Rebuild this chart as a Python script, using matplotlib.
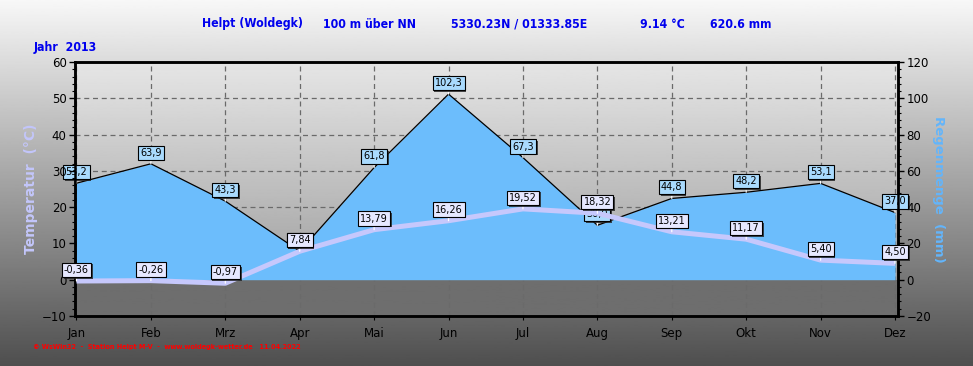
import numpy as np
import matplotlib
matplotlib.use("Agg")
import matplotlib.pyplot as plt
import matplotlib.patheffects as pe
from matplotlib.ticker import MultipleLocator

months = ["Jan", "Feb", "Mrz", "Apr", "Mai", "Jun", "Jul", "Aug", "Sep", "Okt", "Nov", "Dez"]
temp = [-0.36, -0.26, -0.97, 7.84, 13.79, 16.26, 19.52, 18.32, 13.21, 11.17, 5.40, 4.50]  # °C
rain = [53.2, 63.9, 43.3, 15.7, 61.8, 102.3, 67.3, 30.0, 44.8, 48.2, 53.1, 37.0]  # mm
temp_labels = ["-0,36", "-0,26", "-0,97", "7,84", "13,79", "16,26", "19,52", "18,32", "13,21", "11,17", "5,40", "4,50"]
rain_labels = ["53,2", "63,9", "43,3", "15,7", "61,8", "102,3", "67,3", "30,0", "44,8", "48,2", "53,1", "37,0"]

x = np.arange(len(months))

fig = plt.figure(figsize=(9.73, 3.66), dpi=100)

# figure background gradient (light top, dark bottom)
bg = fig.add_axes([0, 0, 1, 1], zorder=-10)
grad = np.linspace(0.97, 0.31, 256).reshape(-1, 1)
bg.imshow(grad, aspect="auto", cmap="gray", vmin=0, vmax=1, extent=[0, 1, 0, 1])
bg.set_axis_off()

# rain axes underneath, temperature axes on top
ax2 = fig.add_axes([75 / 973, 50 / 366, 823 / 973, 254 / 366])
ax = fig.add_axes([75 / 973, 50 / 366, 823 / 973, 254 / 366], sharex=ax2)
ax.patch.set_visible(False)
ax2.yaxis.tick_right()

xlim = (-0.02, 11.04)
ax2.set_xlim(*xlim)
ax2.set_ylim(-20, 120)
ax.set_ylim(-10, 60)

# plot area background: gradient above zero, flat dark below
zero_frac = 20 / 140
top_grad = np.linspace(0.63, 0.90, 200)
img = np.concatenate([np.full(int(200 * zero_frac / (1 - zero_frac)), 0.43), top_grad])[::-1].reshape(-1, 1)
ax2.imshow(img, aspect="auto", cmap="gray", vmin=0, vmax=1,
           extent=[xlim[0], xlim[1], -20, 120], zorder=0)

# grid (behind the rain area)
for xv in x:
    ax2.axvline(xv, color="#6a6a6a", lw=0.9, ls=(0, (4, 3)), zorder=1)
for yv in [20, 40, 60, 80, 100]:
    ax2.axhline(yv, color="#6a6a6a", lw=0.9, ls=(0, (4, 3)), zorder=1)

# rain area
ax2.fill_between(x, 0, rain, color="#6cbdfc", lw=0, zorder=2)
ax2.plot(x, rain, color="black", lw=0.9, zorder=3)

# temperature line
ax.plot(x, temp, color="#c6c8fc", lw=3.6, solid_capstyle="butt", zorder=3)

shadow = [pe.withSimplePatchShadow(offset=(1.2, -1.2), shadow_rgbFace="#222222", alpha=0.8)]


def label(axis, xv, yv, txt, face):
    a = axis.annotate(txt, (xv, yv), xytext=(0, 8), textcoords="offset points",
                      ha="center", va="center", fontsize=7, color="black",
                      bbox=dict(boxstyle="square,pad=0.22", fc=face, ec="black", lw=0.8),
                      arrowprops=dict(arrowstyle="-", color="white", lw=0.9,
                                      shrinkA=0, shrinkB=0),
                      zorder=5, annotation_clip=False)
    a.get_bbox_patch().set_path_effects(shadow)


for xv, r, t in zip(x, rain, rain_labels):
    label(ax2, xv, r, t, "#a9dafd")
for xv, tv, t in zip(x, temp, temp_labels):
    label(ax, xv, tv, t, "#e6e8ff")

# axes styling
for a in (ax, ax2):
    for s in a.spines.values():
        s.set_linewidth(1.8)
        s.set_color("black")
ax.yaxis.set_major_locator(MultipleLocator(10))
ax.yaxis.set_minor_locator(MultipleLocator(2))
ax2.yaxis.set_major_locator(MultipleLocator(20))
ax2.yaxis.set_minor_locator(MultipleLocator(4))
ax.tick_params(axis="y", which="major", length=4, width=1, labelsize=8.5, pad=2)
ax.tick_params(axis="y", which="minor", length=2.5, width=0.8)
ax2.tick_params(axis="y", which="major", length=4, width=1, labelsize=8.5, pad=2)
ax2.tick_params(axis="y", which="minor", length=2.5, width=0.8)
ax2.set_xticks(x)
ax2.set_xticklabels(months)
ax2.tick_params(axis="x", length=3, labelsize=8.5, pad=5)
ax.tick_params(axis="x", bottom=False, labelbottom=False)

ax.set_ylabel("Temperatur  (°C)", color="#c3c6fb", fontsize=10, fontweight="bold", labelpad=3)
ax2.yaxis.set_label_position("right")
ax2.set_ylabel("Regenmenge  (mm)", color="#63b5fb", fontsize=9.5,
               fontweight="bold", rotation=-90, labelpad=10)

# header texts
hdr = dict(color="#0000ee", fontsize=8.8, fontweight="bold", va="center",
           family="DejaVu Sans", fontstretch="condensed")
fig.text(202 / 973, 1 - 24 / 366, "Helpt (Woldegk)", **hdr)
fig.text(323 / 973, 1 - 24 / 366, "100 m über NN", **hdr)
fig.text(451 / 973, 1 - 24 / 366, "5330.23N / 01333.85E", **hdr)
fig.text(640 / 973, 1 - 24 / 366, "9.14 °C", **hdr)
fig.text(710 / 973, 1 - 24 / 366, "620.6 mm", **hdr)
fig.text(34 / 973, 1 - 47 / 366, "Jahr  2013", **hdr)

fig.text(33 / 973, 1 - 347 / 366,
         "© WsWin32  -  Station Helpt M-V  -  www.woldegk-wetter.de   11.04.2022",
         color="red", fontsize=5.2, fontweight="bold", va="center",
         family="DejaVu Sans", fontstretch="condensed")

plt.savefig("out.png", dpi=100)
